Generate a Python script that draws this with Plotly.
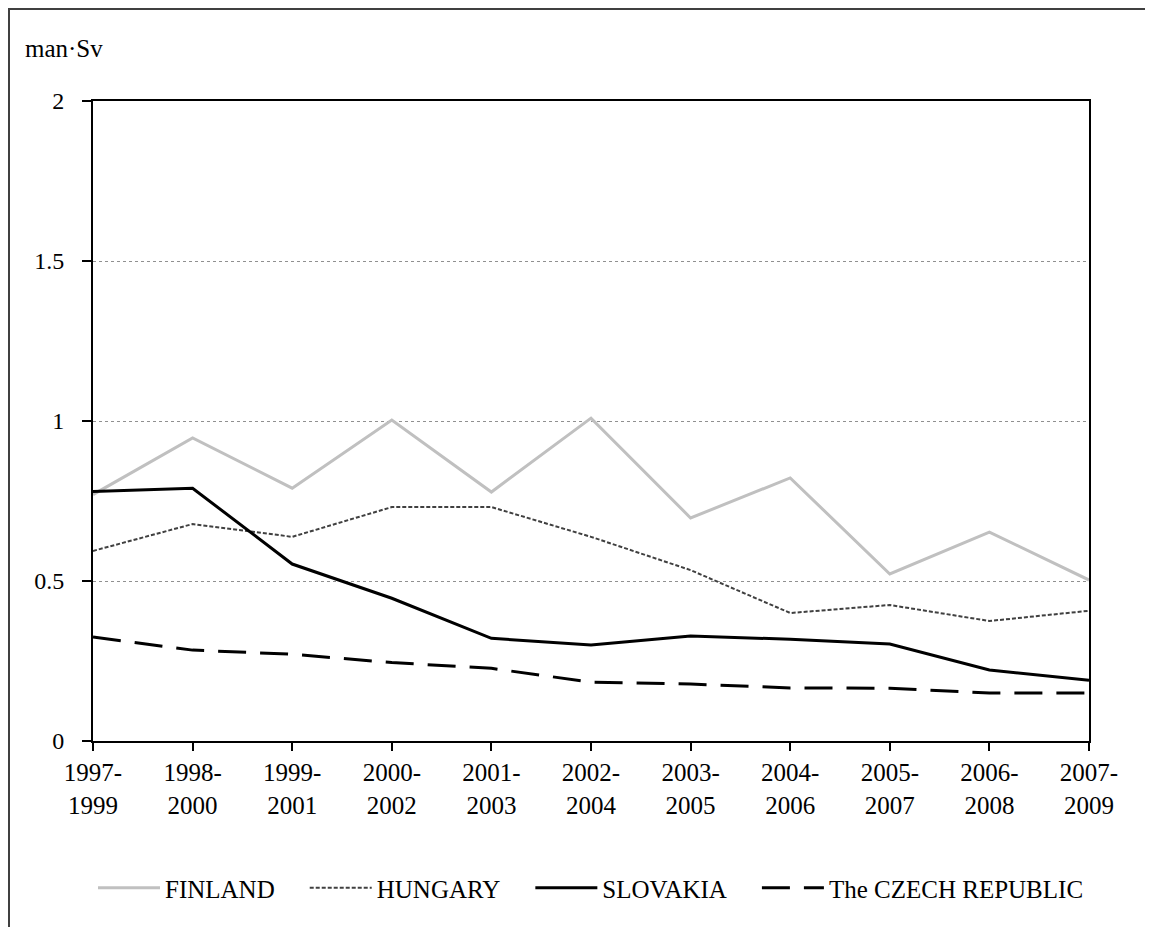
import plotly.graph_objects as go

periods = ["1997-<br>1999", "1998-<br>2000", "1999-<br>2001", "2000-<br>2002", "2001-<br>2003",
           "2002-<br>2004", "2003-<br>2005", "2004-<br>2006", "2005-<br>2007", "2006-<br>2008", "2007-<br>2009"]
finland = [0.77, 0.947, 0.79, 1.003, 0.778, 1.009, 0.697, 0.822, 0.522, 0.653, 0.503]
hungary = [0.594, 0.678, 0.638, 0.731, 0.731, 0.638, 0.534, 0.40, 0.425, 0.375, 0.407]
slovakia = [0.78, 0.79, 0.553, 0.446, 0.321, 0.30, 0.328, 0.318, 0.303, 0.222, 0.19]
czech = [0.325, 0.284, 0.271, 0.245, 0.227, 0.184, 0.178, 0.166, 0.165, 0.15, 0.15]
names = ["FINLAND", "HUNGARY", "SLOVAKIA", "The CZECH REPUBLIC"]

FONT = "Liberation Serif"
x = list(range(len(periods)))
PAD = "\u00a0" * 4

fig = go.Figure()
fig.add_trace(go.Scatter(x=x, y=finland, name=names[0] + PAD, mode="lines",
                         line=dict(color="#c0c0c0", width=3)))
fig.add_trace(go.Scatter(x=x, y=hungary, name=names[1] + PAD, mode="lines",
                         line=dict(color="#404040", width=2, dash="4px,2px")))
fig.add_trace(go.Scatter(x=x, y=slovakia, name=names[2] + PAD, mode="lines",
                         line=dict(color="black", width=3)))
fig.add_trace(go.Scatter(x=x, y=czech, name=names[3], mode="lines",
                         line=dict(color="black", width=3, dash="28px,14px")))

L, T, R, B = 85, 93, 72, 194
PW, PH = 1153 - L - R, 927 - T - B

fig.update_layout(
    width=1153, height=927,
    margin=dict(l=L, r=R, t=T, b=B),
    paper_bgcolor="white", plot_bgcolor="white",
    font=dict(family=FONT, size=24, color="black"),
    showlegend=True,
    legend=dict(orientation="h", x=0.5, xanchor="center", y=-147 / PH, yanchor="middle",
                font=dict(family=FONT, size=25, color="black"), itemwidth=62,
                bgcolor="rgba(0,0,0,0)"),
    xaxis=dict(range=[0, 10], tickmode="array", tickvals=x, ticktext=periods,
               showgrid=False, showline=True, linecolor="black", linewidth=2, mirror=True,
               ticks="outside", ticklen=8, tickcolor="black", tickwidth=2,
               tickfont=dict(family=FONT, size=25, color="black"), zeroline=False),
    yaxis=dict(range=[0, 2], tickmode="array", tickvals=[0, 0.5, 1, 1.5, 2],
               ticktext=["0", "0.5", "1", "1.5", "2"],
               showgrid=True, gridcolor="#909090", gridwidth=1, griddash="dot",
               showline=True, linecolor="black", linewidth=2, mirror=True,
               ticks="outside", ticklen=9, tickcolor="black", tickwidth=2,
               tickfont=dict(family=FONT, size=24, color="black"), zeroline=False,
               ticklabelstandoff=13),
    annotations=[dict(text="man·Sv", xref="paper", yref="paper", x=(15 - L) / PW,
                      y=1 + (T - 40) / PH, xanchor="left", yanchor="middle",
                      showarrow=False, font=dict(family=FONT, size=25, color="black"))],
    shapes=[dict(type="rect", xref="paper", yref="paper",
                 x0=(1 - L) / PW, x1=(1250 - L) / PW,
                 y0=-2, y1=1 + (T - 1) / PH,
                 line=dict(color="#404040", width=2), layer="below")],
)

fig.write_html("out.html")
